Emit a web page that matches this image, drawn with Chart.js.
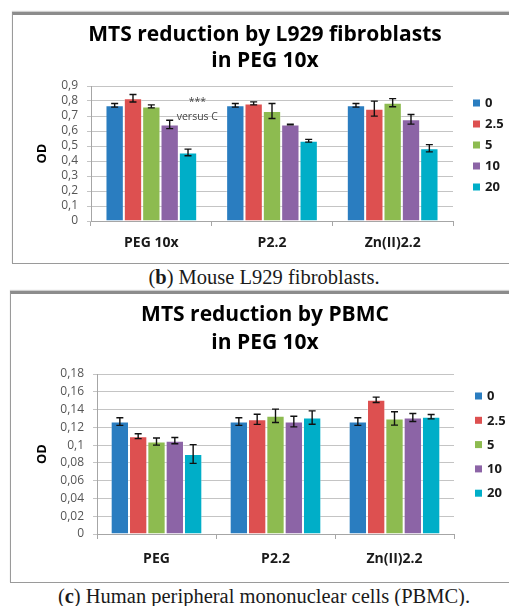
<!DOCTYPE html>
<html>
<head>
<meta charset="utf-8">
<script src="https://cdn.jsdelivr.net/npm/chart.js@4.4.1/dist/chart.umd.min.js"></script>
<style>
  html, body { margin: 0; padding: 0; background: #fff; width: 509px; height: 606px; overflow: hidden; position: relative; }
  .panel { position: absolute; background: #fff; border-left: 1px solid #9a9a9a; border-bottom: 1px solid #9a9a9a; border-top: 3px solid #8c8c8c; box-shadow: 0 -1px 1px #cfcfcf; overflow: hidden; }
  .panel canvas { position: absolute; left: 0; top: 0; }
  .caption { position: absolute; left: 0; width: 528px; text-align: center; font-family: "Liberation Serif", serif; font-size: 20.5px; color: #1a1a1a; line-height: 22px; }
</style>
</head>
<body>
<div class="panel" style="left:12px; top:12px; width:520px; height:248px;"><canvas id="c1" width="504" height="248"></canvas></div>
<div class="caption" style="top:266px;">(<b>b</b>) Mouse L929 fibroblasts.</div>
<div class="panel" style="left:10px; top:291px; width:520px; height:288px;"><canvas id="c2" width="508" height="288"></canvas></div>
<div class="caption" style="top:585px;">(<b>c</b>) Human peripheral mononuclear cells (PBMC).</div>
<script>
// Concentration series (legend) and their bar colours
const concentrations = ['0', '2.5', '5', '10', '20'];
const seriesColors = ['#2a7dc0', '#dd5050', '#8dbb50', '#8c64a6', '#00aec8'];

// Panel (b): L929 fibroblasts
const l929Categories = ['PEG 10x', 'P2.2', 'Zn(II)2.2'];
const l929_c0  = [0.771, 0.771, 0.771];
const l929_c25 = [0.818, 0.784, 0.749];
const l929_c5  = [0.764, 0.733, 0.789];
const l929_c10 = [0.644, 0.644, 0.678];
const l929_c20 = [0.457, 0.535, 0.485];
const l929Err_c0  = [0.012, 0.012, 0.012];
const l929Err_c25 = [0.025, 0.010, 0.050];
const l929Err_c5  = [0.010, 0.050, 0.027];
const l929Err_c10 = [0.028, 0.002, 0.032];
const l929Err_c20 = [0.022, 0.009, 0.024];
const l929Ticks = ['0', '0,1', '0,2', '0,3', '0,4', '0,5', '0,6', '0,7', '0,8', '0,9'];

// Panel (c): PBMC
const pbmcCategories = ['PEG', 'P2.2', 'Zn(II)2.2'];
const pbmc_c0  = [0.1265, 0.1265, 0.1265];
const pbmc_c25 = [0.1100, 0.1290, 0.1510];
const pbmc_c5  = [0.1040, 0.1330, 0.1300];
const pbmc_c10 = [0.1050, 0.1265, 0.1310];
const pbmc_c20 = [0.0900, 0.1310, 0.1320];
const pbmcErr_c0  = [0.0043, 0.0043, 0.0043];
const pbmcErr_c25 = [0.0027, 0.0057, 0.0030];
const pbmcErr_c5  = [0.0040, 0.0075, 0.0075];
const pbmcErr_c10 = [0.0035, 0.0060, 0.0045];
const pbmcErr_c20 = [0.0105, 0.0075, 0.0025];
const pbmcTicks = ['0', '0,02', '0,04', '0,06', '0,08', '0,1', '0,12', '0,14', '0,16', '0,18'];

const FONT = '"Open Sans", "DejaVu Sans", sans-serif';

// Error bars (mean ± SD) drawn on top of each bar
const errorBars = {
  id: 'errorBars',
  afterDatasetsDraw(chart, args, opts) {
    const { ctx } = chart;
    const y = chart.scales.y;
    chart.data.datasets.forEach((ds, i) => {
      const meta = chart.getDatasetMeta(i);
      meta.data.forEach((bar, j) => {
        const v = ds.data[j], e = opts.errors[i][j];
        const yt = y.getPixelForValue(v + e), yb = y.getPixelForValue(v - e);
        const w = 3.5;
        ctx.save();
        ctx.strokeStyle = '#111';
        ctx.lineWidth = 1.4;
        ctx.beginPath();
        ctx.moveTo(bar.x, yt); ctx.lineTo(bar.x, yb);
        ctx.moveTo(bar.x - w, yt); ctx.lineTo(bar.x + w, yt);
        ctx.moveTo(bar.x - w, yb); ctx.lineTo(bar.x + w, yb);
        ctx.stroke();
        ctx.restore();
      });
    });
  }
};

// Legend column to the right of the plot
const sideLegend = {
  id: 'sideLegend',
  afterDraw(chart, args, opts) {
    const { ctx, chartArea } = chart;
    ctx.save();
    ctx.font = 'bold 13px ' + FONT;
    ctx.textBaseline = 'middle';
    chart.data.datasets.forEach((ds, i) => {
      const cy = opts.top + i * opts.step;
      const x0 = chartArea.right + opts.gap;
      ctx.fillStyle = ds.backgroundColor;
      ctx.fillRect(x0, cy - 3.5, 7, 7);
      ctx.fillStyle = '#1a1a1a';
      ctx.fillText(ds.label, x0 + 12, cy + 0.5);
    });
    ctx.restore();
  }
};

// Small text notes placed in data coordinates
const notes = {
  id: 'notes',
  afterDatasetsDraw(chart, args, opts) {
    if (!opts.items) return;
    const { ctx } = chart;
    ctx.save();
    ctx.font = '10.5px ' + FONT;
    ctx.fillStyle = '#444';
    ctx.textAlign = 'center';
    ctx.textBaseline = 'middle';
    opts.items.forEach(n => {
      const x = chart.scales.x.getPixelForValue(n.category) + n.dx;
      const y = chart.scales.y.getPixelForValue(n.value);
      ctx.fillText(n.text, x, y);
    });
    ctx.restore();
  }
};

function makeChart(canvasId, cfg) {
  const values = cfg.series;
  return new Chart(document.getElementById(canvasId), {
    type: 'bar',
    data: {
      labels: cfg.categories,
      datasets: concentrations.map((c, i) => ({
        label: c,
        data: values[i],
        backgroundColor: seriesColors[i],
        borderColor: 'rgba(255,255,255,0.35)',
        borderWidth: 1,
        borderSkipped: 'bottom',
        categoryPercentage: cfg.catPct,
        barPercentage: 1
      }))
    },
    options: {
      responsive: false,
      animation: false,
      devicePixelRatio: 1,
      layout: { padding: 0 },
      plugins: {
        legend: { display: false },
        tooltip: { enabled: false },
        title: {
          display: true,
          text: cfg.title,
          color: '#000',
          font: { family: FONT, weight: 'bold', size: 21, lineHeight: cfg.titleLH },
          padding: { top: cfg.titleTop, bottom: cfg.titleBottom }
        },
        errorBars: { errors: cfg.errors },
        sideLegend: cfg.legend,
        notes: { items: cfg.notes }
      },
      scales: {
        x: {
          afterFit: s => { s.height = cfg.xHeight; },
          border: { color: '#a6a6a6' },
          grid: { display: true, offset: true, drawOnChartArea: false, tickLength: 5, color: '#a6a6a6' },
          ticks: { color: '#1a1a1a', font: { family: FONT, weight: 'bold', size: 14 }, padding: cfg.xPad }
        },
        y: {
          min: 0, max: cfg.max,
          afterFit: s => { s.width = cfg.yWidth; },
          border: { color: '#a6a6a6' },
          grid: { color: '#c4c4c4', tickLength: 4, drawTicks: true },
          ticks: {
            count: cfg.tickLabels.length,
            autoSkip: false,
            color: '#555',
            padding: 9,
            font: { family: FONT, size: 12 },
            callback: (v, i) => cfg.tickLabels[i]
          },
          title: {
            display: true, text: 'OD', color: '#000',
            font: { family: FONT, weight: 'bold', size: 13 },
            padding: { top: cfg.odPad, bottom: 0 }
          }
        },
        // empty right-hand strip that holds the legend column
        legendStrip: {
          type: 'linear',
          position: 'right',
          display: true,
          afterFit: s => { s.width = cfg.legendWidth; },
          grid: { display: false },
          border: { display: false },
          ticks: { display: false }
        }
      }
    },
    plugins: [errorBars, sideLegend, notes]
  });
}

makeChart('c1', {
  categories: l929Categories,
  series: [l929_c0, l929_c25, l929_c5, l929_c10, l929_c20],
  errors: [l929Err_c0, l929Err_c25, l929Err_c5, l929Err_c10, l929Err_c20],
  tickLabels: l929Ticks,
  max: 0.9,
  title: ['MTS reduction by L929 fibroblasts', 'in PEG 10x'],
  titleLH: 26 / 21, titleTop: 7, titleBottom: 12,
  catPct: 0.76, legendWidth: 64, yWidth: 78, xHeight: 42, xPad: 9, odPad: 21,
  legend: { top: 88, step: 21, gap: 20 },
  notes: [
    { text: '***', category: 0, dx: 46, value: 0.795 },
    { text: 'versus C', category: 0, dx: 46, value: 0.695 }
  ]
});

makeChart('c2', {
  categories: pbmcCategories,
  series: [pbmc_c0, pbmc_c25, pbmc_c5, pbmc_c10, pbmc_c20],
  errors: [pbmcErr_c0, pbmcErr_c25, pbmcErr_c5, pbmcErr_c10, pbmcErr_c20],
  tickLabels: pbmcTicks,
  max: 0.18,
  title: ['MTS reduction by PBMC', 'in PEG 10x'],
  titleLH: 28 / 21, titleTop: 7, titleBottom: 17,
  catPct: 0.77, legendWidth: 65, yWidth: 86, xHeight: 48, xPad: 12, odPad: 23,
  legend: { top: 102, step: 24.3, gap: 21 },
  notes: []
});
</script>
</body>
</html>
